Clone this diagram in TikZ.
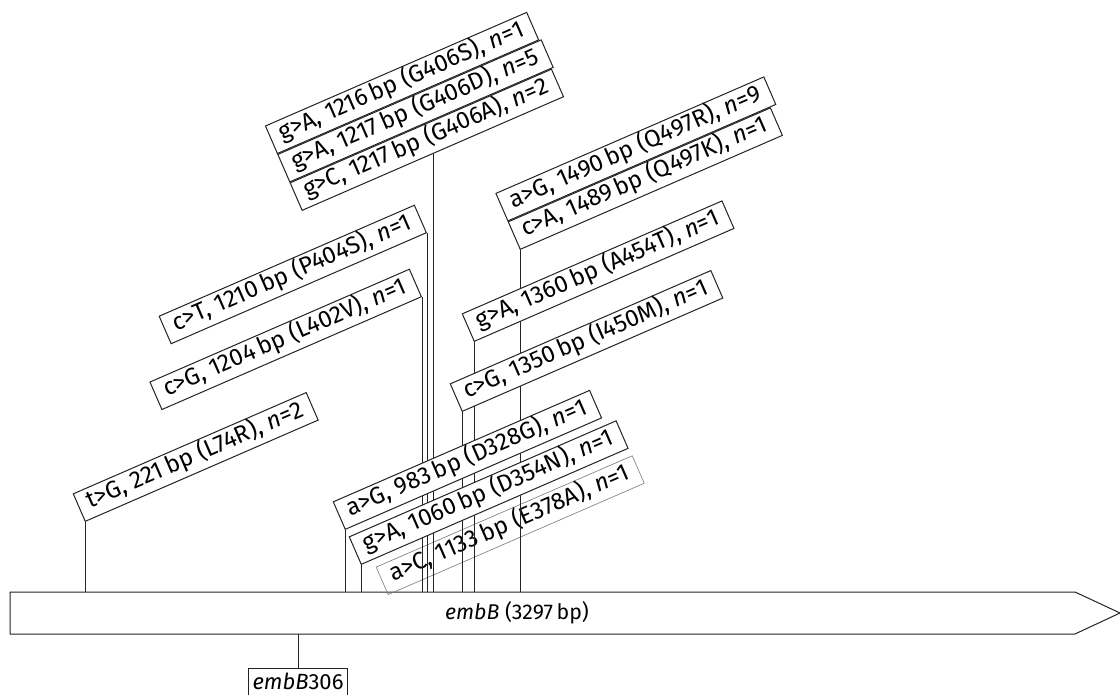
\documentclass[tikz,border=0pt]{standalone}
\usepackage{fontspec}
\setmainfont{Fira Sans}
\usepackage{tikz}
\usetikzlibrary{positioning, calc}
\definecolor{mydark}{RGB}{35,35,35}
\definecolor{mygray}{RGB}{120,120,120}
\tikzset{
  mutbox/.style={rectangle, draw=mydark, fill=white, rotate=23.5,
    font=\fontsize{18}{21}\selectfont, text height=12.5pt, text depth=4.2pt,
    inner xsep=7.5pt, inner ysep=2.9pt, line width=0.75pt},
  faintbox/.style={mutbox, draw=mygray, fill=none, line width=0.45pt},
  stem/.style={line width=0.75pt, color=mydark}
}

\begin{document}
\begin{tikzpicture}[x=0.75pt, y=-0.75pt]
  \useasboundingbox (0,0) rectangle (1120,695);

  % Gene
  \coordinate (bartop) at (0,592);
  \coordinate (barbot) at (0,634);
  \draw[stem, fill=white] (10,592) -- (1075,592) -- (1120,613) -- (1075,634) -- (10,634) -- cycle;
  \node[font=\fontsize{16}{19}\selectfont] (gene) at (517,613) {\textit{embB} (3297\,bp)};

  % Primer
  \node[draw=mydark, line width=0.75pt, anchor=north, font=\fontsize{16.5}{19}\selectfont,
    inner xsep=3pt, inner ysep=3pt, text depth=5pt] (primer) at (298,668) {\textit{embB}306};
  \draw[stem] (primer.north) -- (primer.north |- barbot);

  % Mutations, unfilled one first
  \node[faintbox, anchor=south west] (ac1133) at (388,595) {a>C, 1133\,bp (E378A), \textit{n}=1};

  % Stems
  \draw[stem] (85,522) coordinate (s221) -- (s221 |- bartop);
  \draw[stem] (345,530) coordinate (s983) -- (s983 |- bartop);
  \draw[stem] (361,565) coordinate (s1060) -- (s1060 |- bartop);
  \draw[stem] (422,297) coordinate (s1204) -- (s1204 |- bartop);
  \draw[stem] (427,233) coordinate (s1210) -- (s1210 |- bartop);
  \draw[stem] (433,154) coordinate (s1217) -- (s1217 |- bartop);
  \draw[stem] (462,412) coordinate (s1350) -- (s1350 |- bartop);
  \draw[stem] (474,342) coordinate (s1360) -- (s1360 |- bartop);
  \draw[stem] (520,250) coordinate (s1489) -- (s1489 |- bartop);

  % Labels
  \node[mutbox, anchor=south west] (tg221) at (s221) {t>G, 221\,bp (L74R), \textit{n}=2};
  \node[mutbox, anchor=south west] (ag983) at (s983) {a>G, 983\,bp (D328G), \textit{n}=1};
  \node[mutbox, anchor=south west] (ga1060) at (s1060) {g>A, 1060\,bp (D354N), \textit{n}=1};
  \node[mutbox, anchor=south east] (cg1204) at (s1204) {c>G, 1204\,bp (L402V), \textit{n}=1};
  \node[mutbox, anchor=south east] (ct1210) at (s1210) {c>T, 1210\,bp (P404S), \textit{n}=1};
  \node[mutbox, anchor=south] (gc1217) at (s1217) {g>C, 1217\,bp (G406A), \textit{n}=2};
  \node[mutbox, anchor=south west] (ga1217) at (gc1217.north west) {g>A, 1217\,bp (G406D), \textit{n}=5};
  \node[mutbox, anchor=south west] (ga1216) at (ga1217.north west) {g>A, 1216\,bp (G406S), \textit{n}=1};
  \node[mutbox, anchor=south west] (cg1350) at (s1350) {c>G, 1350\,bp (I450M), \textit{n}=1};
  \node[mutbox, anchor=south west] (ga1360) at (s1360) {g>A, 1360\,bp (A454T), \textit{n}=1};
  \node[mutbox, anchor=south west] (ca1489) at (s1489) {c>A, 1489\,bp (Q497K), \textit{n}=1};
  \node[mutbox, anchor=south west] (ag1490) at (ca1489.north west) {a>G, 1490\,bp (Q497R), \textit{n}=9};
\end{tikzpicture}
\end{document}
